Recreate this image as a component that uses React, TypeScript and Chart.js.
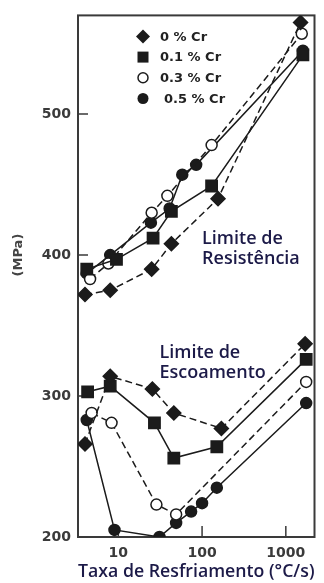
import React, { useEffect, useRef } from "react";
import { Chart, registerables } from "chart.js";

Chart.register(...registerables);

// ---- data ----
const seriesNames = ["0 % Cr", "0.1 % Cr", "0.3 % Cr", "0.5 % Cr"];
const pointStyles = ["rectRot", "rect", "circleOpen", "circle"];
const dashed = [true, false, true, false];

// Limite de Resistência (upper group)
const uts0X = [4, 8, 25, 43, 155, 1500];
const uts0Y = [372, 375, 390, 408, 440, 565];
const uts1X = [4.2, 9.5, 26, 43, 130, 1600];
const uts1Y = [390, 397, 412, 431, 449, 542];
const uts3X = [4.6, 7.6, 25, 38.5, 130, 1550];
const uts3Y = [383, 394, 430, 442, 478, 557];
const uts5X = [4.2, 8, 24.5, 41, 58, 85, 1600];
const uts5Y = [387, 400, 423, 433, 457, 464, 545];

// Limite de Escoamento (lower group)
const ys0X = [4, 8, 25.5, 46, 170, 1700];
const ys0Y = [266, 314, 305, 288, 277, 337];
const ys1X = [4.3, 8, 27, 46, 150, 1750];
const ys1Y = [303, 307, 281, 256, 264, 326];
const ys3X = [4.8, 8.3, 28.5, 49, 1750];
const ys3Y = [288, 281, 223, 216, 310];
const ys5X = [4.2, 9, 31, 49, 74, 100, 150, 1750];
const ys5Y = [283, 205, 200, 210, 218, 224, 235, 295];

const xTickValues = [10, 100, 1000];
const yTickValues = [200, 300, 400, 500];

const xTitle = "Taxa de Resfriamento (°C/s)";
const yTitle = "(MPa)";

const annotations = [
  { lines: ["Limite de", "Resistência"], x: 100, y: 408 },
  { lines: ["Limite de", "Escoamento"], x: 31, y: 327 },
];

const groups = [
  [uts0X, uts0Y, uts1X, uts1Y, uts3X, uts3Y, uts5X, uts5Y],
  [ys0X, ys0Y, ys1X, ys1Y, ys3X, ys3Y, ys5X, ys5Y],
];

const INK = "#1b1b1b";
const NAVY = "#1c1a48";

function drawMarker(ctx: CanvasRenderingContext2D, style: string, x: number, y: number) {
  ctx.save();
  ctx.fillStyle = INK;
  ctx.strokeStyle = INK;
  ctx.lineWidth = 1.5;
  ctx.beginPath();
  if (style === "rectRot") {
    const r = 7;
    ctx.moveTo(x, y - r);
    ctx.lineTo(x + r, y);
    ctx.lineTo(x, y + r);
    ctx.lineTo(x - r, y);
    ctx.closePath();
    ctx.fill();
  } else if (style === "rect") {
    ctx.rect(x - 5.5, y - 5.5, 11, 11);
    ctx.fill();
  } else if (style === "circleOpen") {
    ctx.arc(x, y, 5, 0, Math.PI * 2);
    ctx.fillStyle = "#fff";
    ctx.fill();
    ctx.stroke();
  } else {
    ctx.arc(x, y, 5.5, 0, Math.PI * 2);
    ctx.fill();
  }
  ctx.restore();
}

const framePlugin = {
  id: "frame",
  beforeDatasetsDraw(chart: any) {
    const { ctx, chartArea: a, scales } = chart;
    ctx.save();
    ctx.strokeStyle = "#3a3a3a";
    ctx.lineWidth = 2;
    ctx.strokeRect(a.left, a.top, a.right - a.left, a.bottom - a.top);
    ctx.lineWidth = 1.5;
    ctx.beginPath();
    yTickValues.forEach((v) => {
      const py = scales.y.getPixelForValue(v);
      ctx.moveTo(a.left, py);
      ctx.lineTo(a.left + 10, py);
    });
    xTickValues.forEach((v) => {
      const px = scales.x.getPixelForValue(v);
      ctx.moveTo(px, a.bottom);
      ctx.lineTo(px, a.bottom - 11);
    });
    ctx.stroke();
    ctx.restore();
  },
  afterDraw(chart: any) {
    const { ctx, chartArea: a, scales } = chart;
    ctx.save();
    // annotations
    ctx.fillStyle = NAVY;
    ctx.font = "600 18px 'Open Sans'";
    ctx.textBaseline = "alphabetic";
    ctx.textAlign = "left";
    annotations.forEach((an) => {
      const px = scales.x.getPixelForValue(an.x);
      const py = scales.y.getPixelForValue(an.y);
      an.lines.forEach((t, i) => ctx.fillText(t, px, py + i * 20));
    });
    // legend
    const lx = a.left + 65;
    const ly = a.top + 21;
    ctx.font = "bold 13px 'DejaVu Sans'";
    ctx.textBaseline = "middle";
    seriesNames.forEach((name, i) => {
      const y = ly + i * 20.7;
      drawMarker(ctx, pointStyles[i], lx, y);
      ctx.fillStyle = "#222";
      ctx.fillText(name, lx + 17 + (i === 3 ? 4 : 0), y + 1);
    });
    // y title
    ctx.translate(19, scales.y.getPixelForValue(400));
    ctx.rotate(-Math.PI / 2);
    ctx.textAlign = "center";
    ctx.font = "bold 13px 'DejaVu Sans'";
    ctx.fillStyle = "#444";
    ctx.fillText(yTitle, 0, 0);
    ctx.restore();
  },
};

export default function App() {
  const ref = useRef<HTMLCanvasElement>(null);
  useEffect(() => {
    document.body.style.margin = "0";
    const datasets: any[] = [];
    groups.forEach((g) => {
      for (let i = 0; i < 4; i++) {
        const xs = g[i * 2];
        const ys = g[i * 2 + 1];
        const style = pointStyles[i];
        datasets.push({
          label: seriesNames[i],
          data: xs.map((x, k) => ({ x, y: ys[k] })),
          borderColor: INK,
          borderWidth: 1.5,
          borderDash: dashed[i] ? [7, 4] : [],
          pointStyle: style === "circleOpen" ? "circle" : style,
          pointRadius: style === "rectRot" ? 7 : style === "rect" ? 8 : 5.5,
          pointBackgroundColor: style === "circleOpen" ? "#fff" : INK,
          pointBorderColor: INK,
          pointBorderWidth: 1.5,
          tension: 0,
          fill: false,
        });
      }
    });
    const chart = new Chart(ref.current!, {
      type: "line",
      data: { datasets },
      options: {
        animation: false,
        responsive: true,
        maintainAspectRatio: false,
        layout: { padding: { left: 0, right: 8, top: 14, bottom: 0 } },
        plugins: { legend: { display: false }, tooltip: { enabled: false } },
        scales: {
          x: {
            type: "logarithmic",
            min: 3.3,
            max: 2200,
            grid: { display: false, drawTicks: false },
            border: { display: false },
            afterBuildTicks: (s: any) => {
              s.ticks = xTickValues.map((v) => ({ value: v }));
            },
            afterFit: (s: any) => {
              s.height = 46;
            },
            ticks: {
              autoSkip: false,
              maxRotation: 0,
              padding: 8,
              color: "#3a3a3a",
              font: { family: "DejaVu Sans", size: 14, weight: "bold" },
              callback: (v: any) => String(v),
            },
            title: {
              display: true,
              text: xTitle,
              color: NAVY,
              font: { family: "Open Sans", size: 18, weight: "600" },
              padding: { top: 0, bottom: 0 },
            },
          },
          y: {
            type: "linear",
            min: 200,
            max: 570,
            grid: { display: false, drawTicks: false },
            border: { display: false },
            afterBuildTicks: (s: any) => {
              s.ticks = yTickValues.map((v) => ({ value: v }));
            },
            afterFit: (s: any) => {
              s.width = 78;
            },
            ticks: {
              padding: 7,
              color: "#3a3a3a",
              font: { family: "DejaVu Sans", size: 14, weight: "bold" },
            },
          },
        },
      },
      plugins: [framePlugin],
    });
    return () => chart.destroy();
  }, []);
  return (
    <div style={{ width: 324, height: 583, position: "relative", background: "#fff" }}>
      <canvas ref={ref} />
    </div>
  );
}
